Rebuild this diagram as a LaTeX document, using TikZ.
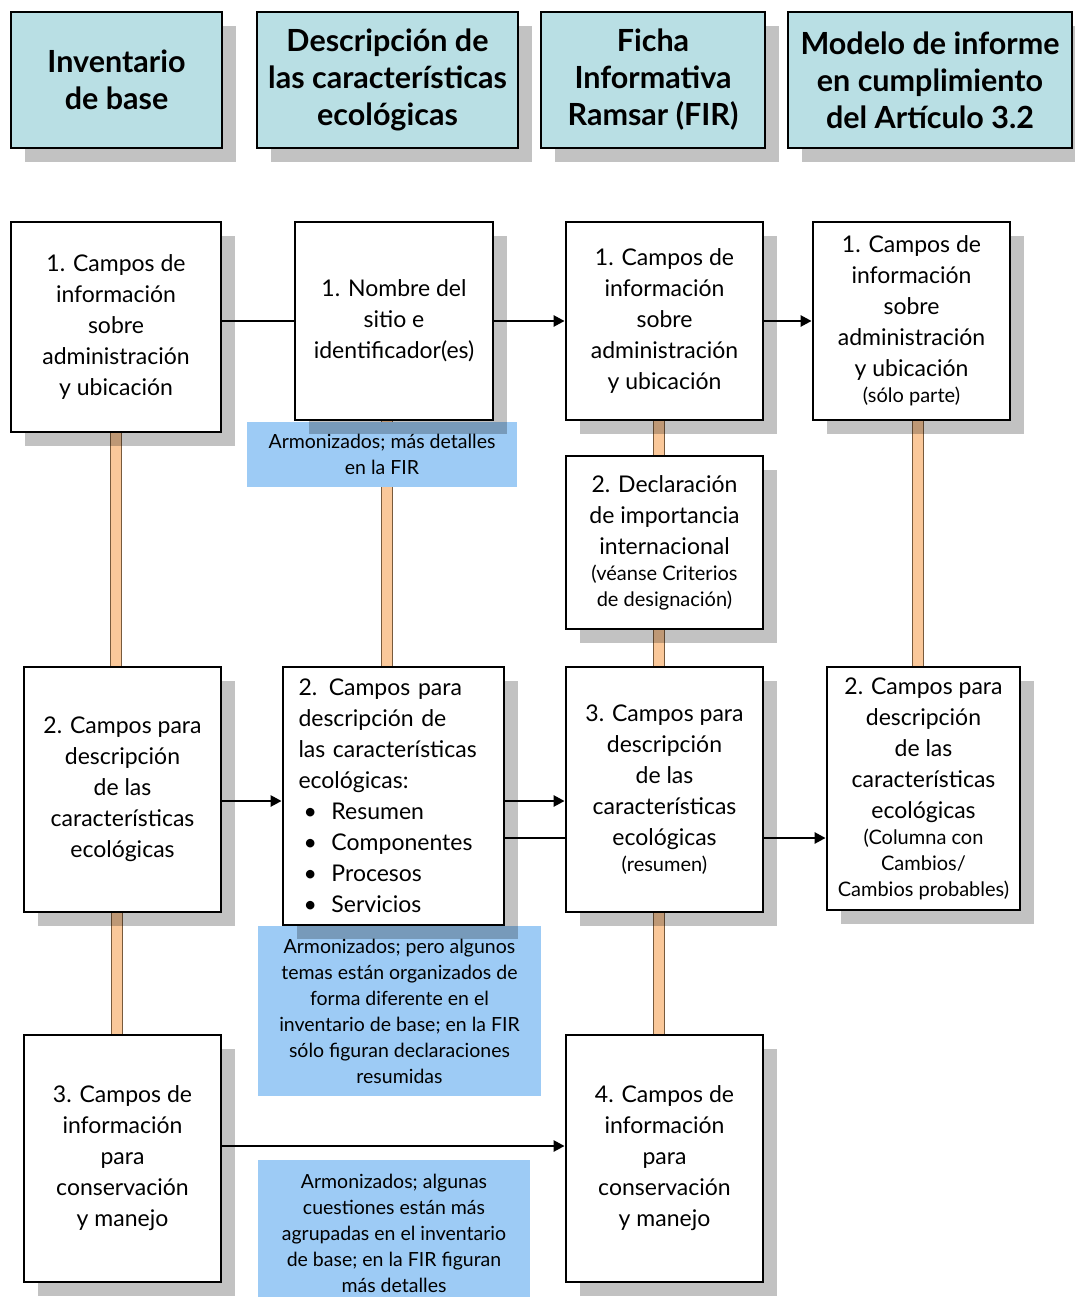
\documentclass[tikz,border=0pt]{standalone}
\usepackage{fontspec}
\setmainfont{Lato}
\usetikzlibrary{arrows.meta,shadows}
\definecolor{hdr}{RGB}{185,223,228}
\definecolor{notec}{RGB}{157,203,245}
\definecolor{peach}{RGB}{250,200,154}
\definecolor{peachline}{RGB}{120,90,60}
\pgfdeclarelayer{bg}
\pgfsetlayers{bg,main}
\newcommand\hdrfnt{\fontsize{30.5}{37}\selectfont\bfseries}
\newcommand\bodyfnt{\fontsize{23}{31}\selectfont}
\newcommand\notefnt{\fontsize{19.5}{26}\selectfont}
\newcommand\smallfnt{\fontsize{20}{26}\selectfont}
\newcommand\bl[1]{\makebox[33pt][l]{\hspace{5pt}\textbullet}#1}
\begin{document}
\begin{tikzpicture}[x=1pt,y=-1pt,
  shadowed/.style={drop shadow={shadow xshift=14pt,shadow yshift=-14pt,fill=black,opacity=.24}},
  hbox/.style={draw,line width=2.8pt,fill=hdr,inner sep=0pt,align=center,shadowed,font=\hdrfnt},
  bbox/.style={draw,line width=2.8pt,fill=white,inner sep=0pt,align=center,shadowed,font=\bodyfnt},
  notebox/.style={fill=notec,inner sep=0pt,align=center,font=\notefnt},
  link/.style={line width=2.5pt},
  arr/.style={link,-{Triangle[length=11pt,width=11pt]}},
  bar/.style={draw=peachline,line width=1pt,double=peach,double distance=10pt}
]
\useasboundingbox (0,0) rectangle (1074,1297);
% headers
\node[hbox,minimum width=211pt,minimum height=136pt] (H1) at (116.5,80) {Inventario\\de base};
\node[hbox,minimum width=261pt,minimum height=136pt] (H2) at (387.5,80) {Descripción de\\las características\\ecológicas};
\node[hbox,minimum width=224pt,minimum height=136pt] (H3) at (653,80) {Ficha\\Informativa\\Ramsar (FIR)};
\node[hbox,minimum width=284pt,minimum height=136pt] (H4) at (930,80) {Modelo de informe\\en cumplimiento\\del Artículo 3.2};
% notes
\node[notebox,minimum width=270pt,minimum height=65pt] (N1) at (382,454.5) {Armonizados; más detalles\\en la FIR};
\node[notebox,minimum width=283pt,minimum height=170pt] (N2) at (399.5,1011) {Armonizados; pero algunos\\temas están organizados de\\forma diferente en el\\inventario de base; en la FIR\\sólo figuran declaraciones\\resumidas};
\node[notebox,minimum width=272pt,minimum height=146pt] (N3) at (394,1233) {Armonizados; algunas\\cuestiones están más\\agrupadas en el inventario\\de base; en la FIR figuran\\más detalles};
% boxes
\node[bbox,minimum width=210pt,minimum height=210pt] (A1) at (116,327) {1. Campos de\\información\\sobre\\administración\\y ubicación};
\node[bbox,minimum width=198pt,minimum height=198pt] (B1) at (394,321) {1. Nombre del\\sitio e\\identificador(es)};
\node[bbox,minimum width=197pt,minimum height=198pt] (C1) at (664.5,321) {1. Campos de\\información\\sobre\\administración\\y ubicación};
\node[bbox,minimum width=197pt,minimum height=198pt] (D1) at (911.5,321) {1. Campos de\\información\\sobre\\administración\\y ubicación\\[-5pt]{\smallfnt (sólo parte)}};
\node[bbox,minimum width=197pt,minimum height=173pt] (C2) at (664.5,542.5) {2. Declaración\\de importancia\\internacional\\[-5pt]{\smallfnt (véanse Criterios}\\[-5pt]{\smallfnt de designación)}};
\node[bbox,minimum width=197pt,minimum height=245pt] (A2) at (122.5,789.5) {2. Campos para\\descripción\\de las\\características\\ecológicas};
\node[bbox,minimum width=221pt,minimum height=258pt,text width=190pt,align=left] (B2) at (393.5,796) {2. Campos para\\descripción de\\las características\\ecológicas:\\\bl{Resumen}\\\bl{Componentes}\\\bl{Procesos}\\\bl{Servicios}};
\node[bbox,minimum width=197pt,minimum height=245pt] (C3) at (664.5,789.5) {3. Campos para\\descripción\\de las\\características\\ecológicas\\[-5pt]{\smallfnt (resumen)}};
\node[bbox,minimum width=193pt,minimum height=243pt] (D2) at (923.5,788.5) {2. Campos para\\descripción\\de las\\características\\ecológicas\\[-5pt]{\smallfnt (Columna con}\\[-5pt]{\smallfnt Cambios/}\\[-5pt]{\smallfnt Cambios probables)}};
\node[bbox,minimum width=197pt,minimum height=247pt] (A3) at (122.5,1158.5) {3. Campos de\\información\\para\\conservación\\y manejo};
\node[bbox,minimum width=197pt,minimum height=247pt] (C4) at (664.5,1158.5) {4. Campos de\\información\\para\\conservación\\y manejo};
% orange connectors
\begin{pgfonlayer}{bg}
\fill[white] (0,0) rectangle (1074,1297);
\draw[bar] (A1.south) -- (A1.south |- A2.north);
\draw[bar] ([xshift=-5.5pt]A2.south) -- ([xshift=-5.5pt]A2.south |- A3.north);
\draw[bar] ([xshift=-7pt]B1.south) -- ([xshift=-7pt]B1.south |- B2.north);
\draw[bar] ([xshift=-5.5pt]C1.south) -- ([xshift=-5.5pt]C1.south |- C2.north);
\draw[bar] ([xshift=-5.5pt]C2.south) -- ([xshift=-5.5pt]C2.south |- C3.north);
\draw[bar] ([xshift=-5.5pt]C3.south) -- ([xshift=-5.5pt]C3.south |- C4.north);
\draw[bar] ([xshift=6.5pt]D1.south) -- ([xshift=6.5pt]D1.south |- D2.north);
\end{pgfonlayer}
% black connectors
\coordinate (r2a) at (0,801);
\coordinate (r2b) at (0,838);
\coordinate (r3) at (0,1146);
\draw[link] (A1.east |- B1.west) -- (B1.west);
\draw[arr] (B1.east) -- (C1.west);
\draw[arr] (C1.east) -- (D1.west);
\draw[arr] (A2.east |- r2a) -- (B2.west |- r2a);
\draw[arr] (B2.east |- r2a) -- (C3.west |- r2a);
\draw[link] (B2.east |- r2b) -- (C3.west |- r2b);
\draw[arr] (C3.east |- r2b) -- (D2.west |- r2b);
\draw[arr] (A3.east |- r3) -- (C4.west |- r3);
\end{tikzpicture}
\end{document}
